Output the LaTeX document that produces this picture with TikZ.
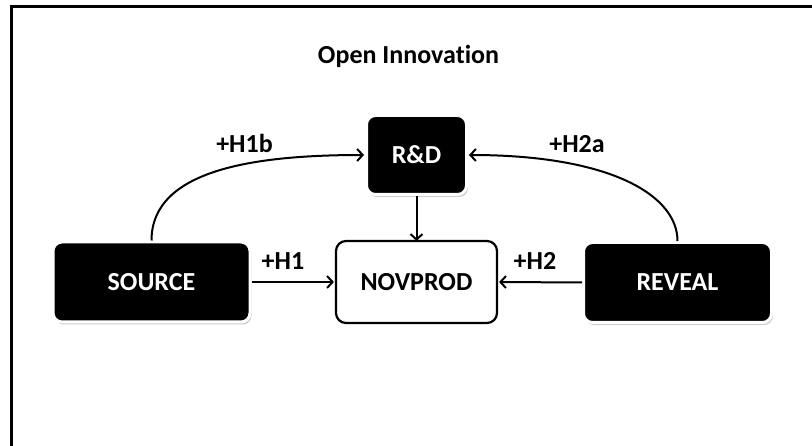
\documentclass[tikz,border=0pt]{standalone}
\usepackage{fontspec}
\setmainfont{Carlito}[Ligatures=NoCommon]
\usetikzlibrary{arrows.meta,shadows}

\tikzset{
  darkbox/.style={fill=black, draw=white, line width=3pt, rounded corners=9pt,
    text=white, font=\fontsize{26}{30}\selectfont\bfseries, inner sep=0pt,
    drop shadow={shadow xshift=1.5pt, shadow yshift=-2.5pt, opacity=0.35, fill=black!60}},
  lightbox/.style={fill=white, draw=black, line width=2.2pt, rounded corners=10pt,
    text=black, font=\fontsize{26}{30}\selectfont\bfseries, inner sep=0pt},
  link/.style={line width=2pt, -{Straight Barb[length=5.5pt,width=12pt,line width=2pt]}},
  tag/.style={font=\fontsize{26}{30}\selectfont\bfseries, anchor=base, inner sep=0pt}
}

\begin{document}
\begin{tikzpicture}[x=1pt,y=-1pt]
  \useasboundingbox (0,0) rectangle (812,446);

  % open frame: left and top edges only
  \draw[line width=3pt] (11.5,446) -- (11.5,7) -- (812,7);

  \node[tag] (title) at (408.5,64) {Open Innovation};

  \node[darkbox, minimum width=197pt, minimum height=80pt] (source) at (151.5,282) {SOURCE};
  \node[darkbox, minimum width=100pt, minimum height=79pt] (rd) at (416.5,155) {R\&D};
  \node[darkbox, minimum width=188pt, minimum height=80pt] (reveal) at (677.5,282.5) {REVEAL};
  \node[lightbox, minimum width=161pt, minimum height=82pt] (novprod) at (416.5,282) {NOVPROD};

  \draw[link] (source.east) -- ([xshift=-1pt]novprod.west);
  \draw[link] (reveal.west) -- ([xshift=1pt]novprod.east);
  \draw[link] (rd.south) -- ([yshift=-1pt]novprod.north);
  \draw[link] (source.north) .. controls +(0,-72) and +(-106,0) .. ([xshift=-1pt]rd.west);
  \draw[link] (reveal.north) .. controls +(0,-45) and +(143,0) .. ([xshift=1pt]rd.east);

  \node[tag] (h1b) at (244.5,153) {+H1b};
  \node[tag] (h2a) at (577,153) {+H2a};
  \node[tag] (h1) at (283,270) {+H1};
  \node[tag] (h2) at (535,270) {+H2};
\end{tikzpicture}
\end{document}
